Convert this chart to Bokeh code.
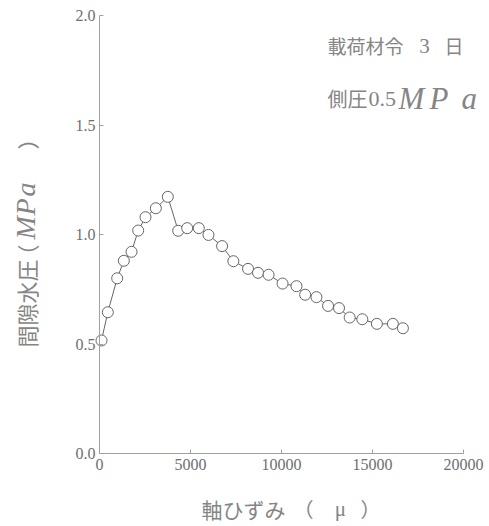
import math
from bokeh.plotting import figure
from bokeh.models import Range1d, Label, FixedTicker, NumeralTickFormatter, ColumnDataSource, LinearAxis
from bokeh.embed import file_html
from bokeh.resources import INLINE

# data
strain = [110, 457, 972, 1337, 1760, 2126, 2528, 3095, 3755, 4325, 4818, 5456, 5987,
          6736, 7355, 8161, 8709, 9290, 10057, 10823, 11300, 11920, 12558, 13160,
          13745, 14440, 15240, 16120, 16670]
pore_pressure = [0.516, 0.645, 0.80, 0.88, 0.921, 1.018, 1.079, 1.12, 1.172, 1.017, 1.029,
                 1.029, 0.998, 0.947, 0.878, 0.843, 0.825, 0.816, 0.776, 0.764, 0.725,
                 0.714, 0.674, 0.664, 0.621, 0.613, 0.592, 0.592, 0.572]
x_ticks = [0, 5000, 10000, 15000, 20000]
y_ticks = [0.0, 0.5, 1.0, 1.5, 2.0]
X_MIN, X_MAX = 0, 20000
Y_MIN, Y_MAX = 0.0, 2.0

W, H = 489, 526
# plot area in canvas pixels (left, right, top, bottom)
PL, PR, PT, PB = 99, 463, 15, 453
sx = (PR - PL) / (X_MAX - X_MIN)
sy = (PB - PT) / (Y_MAX - Y_MIN)

GRAY = "#6e6e6e"
LIGHT = "#858585"

# the frame covers the whole canvas so that texts outside the axes are not clipped
p = figure(width=W, height=H, output_backend="svg", toolbar_location=None,
           x_axis_location=None, y_axis_location=None,
           x_range=Range1d(X_MIN - PL / sx, X_MAX + (W - PR) / sx),
           y_range=Range1d(Y_MIN - (H - PB) / sy, Y_MAX + PT / sy),
           min_border=0)
p.outline_line_color = None
p.grid.visible = False
p.background_fill_color = "white"
p.border_fill_color = "white"

xaxis = LinearAxis(fixed_location=Y_MIN, bounds=(X_MIN, X_MAX), ticker=FixedTicker(ticks=x_ticks),
                   formatter=NumeralTickFormatter(format="0"))
yaxis = LinearAxis(fixed_location=X_MIN, bounds=(Y_MIN, Y_MAX), ticker=FixedTicker(ticks=y_ticks),
                   formatter=NumeralTickFormatter(format="0.0"))
for ax in (xaxis, yaxis):
    ax.axis_line_color = "#a0a0a0"
    ax.major_tick_line_color = "#a0a0a0"
    ax.minor_tick_line_color = None
    ax.major_tick_in = 4
    ax.major_tick_out = 0
    ax.major_label_text_font = "Liberation Serif"
    ax.major_label_text_font_size = "16px"
    ax.major_label_text_color = GRAY
xaxis.major_label_standoff = 5
yaxis.major_label_standoff = 4
p.add_layout(xaxis, "below")
p.add_layout(yaxis, "left")

src = ColumnDataSource(dict(x=strain, y=pore_pressure))
p.line("x", "y", source=src, line_color="#666666", line_width=1)
p.scatter("x", "y", source=src, size=11, marker="circle", fill_color="white",
          line_color="#666666", line_width=1)

CJK = "Noto Sans CJK JP"
SERIF = "Liberation Serif"

def lab(X, Y, text, font, size, italic=False, align="left", angle=0.0, baseline="middle"):
    # X, Y: canvas pixels from the top-left corner
    p.add_layout(Label(x=X, y=H - Y, x_units="screen", y_units="screen", text=text,
                       text_font=font, text_font_size=size, text_color=LIGHT,
                       text_font_style="italic" if italic else "normal",
                       text_align=align, text_baseline=baseline, angle=angle))

# x axis label
lab(201, 508, "軸ひずみ", CJK, "21px")
lab(293, 508, "（", CJK, "20px")
lab(340, 508, "μ", SERIF, "21px", align="center")
lab(360, 508, "）", CJK, "20px")

# y axis label (rotated, reading upwards)
a = math.pi / 2
lab(25, 347, "間隙水圧", CJK, "22px", angle=a)
lab(25, 266, "（", CJK, "22px", angle=a)
lab(25, 239, "M", SERIF, "28px", italic=True, angle=a)
lab(25, 215, "P", SERIF, "28px", italic=True, angle=a)
lab(25, 196, "a", SERIF, "28px", italic=True, angle=a)
lab(25, 149, "）", CJK, "22px", angle=a)

# annotations
lab(327, 45, "載荷材令", CJK, "19px")
lab(424, 45, "3", SERIF, "21px", align="center")
lab(444, 45, "日", CJK, "19px")
lab(327, 98, "側圧", CJK, "20px")
lab(368, 98, "0.5", SERIF, "22px")
lab(398, 98, "M", SERIF, "31px", italic=True)
lab(429, 98, "P", SERIF, "31px", italic=True)
lab(461, 98, "a", SERIF, "31px", italic=True)

open("out.html", "w").write(file_html(p, INLINE))
